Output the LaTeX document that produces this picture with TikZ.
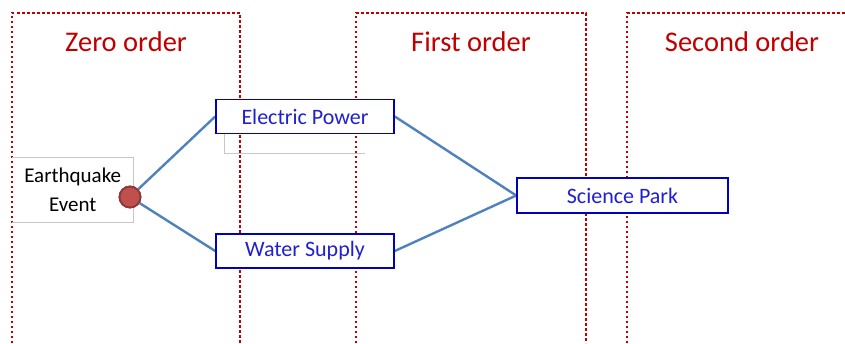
\documentclass[tikz,border=0pt]{standalone}
\usepackage{fontspec}
\setmainfont{Carlito}
\definecolor{zonered}{HTML}{C00000}
\definecolor{linkblue}{HTML}{4F81BD}
\definecolor{boxblue}{HTML}{0000C0}
\definecolor{txtblue}{HTML}{2020D0}
\definecolor{dotfill}{HTML}{C0504D}
\definecolor{dotdraw}{HTML}{8C3836}
\begin{document}
\begin{tikzpicture}[x=1pt,y=-1pt,
  zone/.style={draw=zonered,line width=2.6pt,dash pattern=on 2.5pt off 2.5pt},
  zonetitle/.style={text=zonered,font=\fontsize{28.5}{31}\selectfont},
  elem/.style={draw=boxblue,line width=1.6pt,fill=white,text=txtblue,
    font=\fontsize{22}{25}\selectfont,minimum width=178pt,minimum height=34pt,inner sep=0pt},
  event/.style={circle,fill=dotfill,draw=dotdraw,line width=1.8pt,minimum size=21pt,inner sep=0pt},
  link/.style={draw=linkblue,line width=2.4pt},
  ghost/.style={draw=black!22,line width=0.8pt}]
\useasboundingbox (0,0) rectangle (845,343);
% zones
\draw[zone] (12,343) -- (12,13) -- (240,13) -- (240,343);
\draw[zone] (356,343) -- (356,13) -- (586,13) -- (586,343);
\draw[zone] (627,343) -- (627,13) -- (850,13);
\node[zonetitle] (t0) at (126,42) {Zero order};
\node[zonetitle] (t1) at (471,42) {First order};
\node[zonetitle] (t2) at (742,42) {Second order};
% earthquake label box
\node[minimum width=121pt,minimum height=65pt,anchor=north west,
  align=center,font=\fontsize{21}{29}\selectfont,inner sep=0pt] (lbl) at (12,157)
  {Earthquake\\Event};
\draw[ghost] (lbl.north west) -- (lbl.north east) -- (lbl.south east) -- (lbl.south west);
% ghost outline under Electric Power
\coordinate (g1) at (224,134);
\coordinate (g2) at (224,153);
\coordinate (g3) at (365,153);
\draw[ghost] (g1) -- (g2) -- (g3);
% boxes
\node[elem] (ep) at (305,116.5) {Electric Power};
\node[elem] (ws) at (305,251) {Water Supply};
\node[elem,minimum width=211pt,minimum height=35pt] (sp) at (622.5,195.5) {Science Park};
% event
\node[event] (eq) at (130,197) {};
% links
\draw[link] (eq) -- (ep.west);
\draw[link] (eq) -- (ws.west);
\draw[link] (ep.east) -- (sp.west);
\draw[link] (ws.east) -- (sp.west);
\node[elem] at (ep) {Electric Power};
\node[elem] at (ws) {Water Supply};
\node[elem,minimum width=211pt,minimum height=35pt] at (sp) {Science Park};
\node[event] at (eq) {};
\end{tikzpicture}
\end{document}
